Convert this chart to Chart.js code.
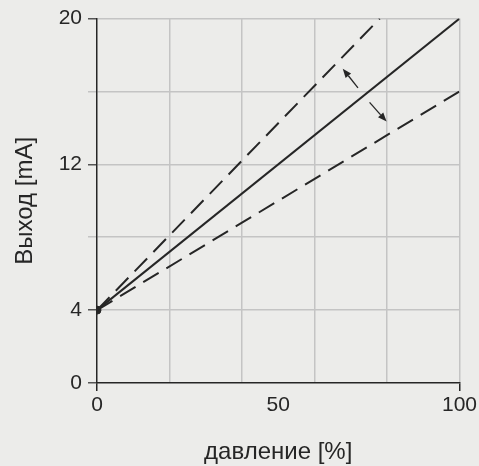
<!DOCTYPE html>
<html>
<head>
<meta charset="utf-8">
<script src="https://cdn.jsdelivr.net/npm/chart.js@4.4.1/dist/chart.umd.min.js"></script>
<style>
  html, body { margin: 0; padding: 0; background: #ececea; }
  #wrap { width: 479px; height: 466px; }
</style>
</head>
<body>
<div id="wrap"><canvas id="myChart" width="479" height="466"></canvas></div>
<script>
// characteristic lines: pressure [%] -> output [mA]
const nominalX = [0, 100];
const nominalY = [4, 20];
const upperX = [0, 78];
const upperY = [4, 20];
const lowerX = [0, 100];
const lowerY = [4, 16];

// arrows between the lines (data units)
const arrowFromX = [72, 75.2];
const arrowFromY = [16.2, 15.4];
const arrowToX = [67.8, 79.9];
const arrowToY = [17.25, 14.35];

const xLabels = [0, 50, 100];
const yLabels = [0, 4, 12, 20];

const ink = '#262626';
const gridGray = '#c4c4c4';
const fontFamily = "'Liberation Sans', Arial, sans-serif";

function pts(xs, ys) {
  return xs.map(function (x, i) { return { x: x, y: ys[i] }; });
}

// draw the two small arrows
const arrowPlugin = {
  id: 'arrows',
  afterDatasetsDraw(chart) {
    const c = chart.ctx;
    const xs = chart.scales.x, ys = chart.scales.y;
    c.save();
    c.strokeStyle = ink;
    c.fillStyle = ink;
    c.lineWidth = 1.3;
    for (let i = 0; i < arrowFromX.length; i++) {
      const x1 = xs.getPixelForValue(arrowFromX[i]), y1 = ys.getPixelForValue(arrowFromY[i]);
      const x2 = xs.getPixelForValue(arrowToX[i]), y2 = ys.getPixelForValue(arrowToY[i]);
      const a = Math.atan2(y2 - y1, x2 - x1);
      const len = 9, w = 3.5;
      const bx = x2 - len * Math.cos(a), by = y2 - len * Math.sin(a);
      c.beginPath();
      c.moveTo(x1, y1);
      c.lineTo(bx, by);
      c.stroke();
      c.beginPath();
      c.moveTo(x2, y2);
      c.lineTo(bx + w * Math.sin(a), by - w * Math.cos(a));
      c.lineTo(bx - w * Math.sin(a), by + w * Math.cos(a));
      c.closePath();
      c.fill();
    }
    c.restore();
  }
};

const ctx = document.getElementById('myChart').getContext('2d');
new Chart(ctx, {
  type: 'line',
  data: {
    datasets: [
      {
        data: pts(upperX, upperY),
        borderColor: ink,
        borderWidth: 2,
        borderDash: [18, 9],
        pointRadius: 0
      },
      {
        data: pts(lowerX, lowerY),
        borderColor: ink,
        borderWidth: 2,
        borderDash: [18, 9],
        pointRadius: 0
      },
      {
        data: pts(nominalX, nominalY),
        borderColor: ink,
        backgroundColor: ink,
        borderWidth: 2,
        pointRadius: function (c) { return c.dataIndex === 0 ? 4 : 0; },
        pointBorderWidth: 1
      }
    ]
  },
  options: {
    responsive: false,
    animation: false,
    layout: { padding: { top: 6, right: 2, left: 0, bottom: 0 } },
    plugins: {
      legend: { display: false },
      tooltip: { enabled: false }
    },
    scales: {
      x: {
        type: 'linear',
        min: 0,
        max: 100,
        afterFit: function (s) { s.height = 83; },
        border: { color: ink, width: 1.5 },
        grid: {
          color: function (c) {
            const v = c.tick.value;
            return (v > 0 && v % 20 === 0) ? gridGray : 'transparent';
          },
          tickColor: function (c) {
            const v = c.tick.value;
            return (v === 0 || v === 100) ? ink : 'transparent';
          },
          lineWidth: 1.5,
          tickLength: 8
        },
        ticks: {
          stepSize: 10,
          autoSkip: false,
          maxRotation: 0,
          padding: 2,
          color: ink,
          font: { family: fontFamily, size: 21 },
          callback: function (v) { return xLabels.includes(v) ? String(v) : ''; }
        },
        title: {
          display: true,
          text: 'давление [%]',
          color: ink,
          font: { family: fontFamily, size: 24 },
          padding: { top: 0, bottom: -1 }
        }
      },
      y: {
        min: 0,
        max: 20,
        afterFit: function (s) { s.width = 97; },
        border: { color: ink, width: 1.5 },
        grid: {
          color: function (c) { return c.tick.value === 0 ? 'transparent' : gridGray; },
          tickColor: function (c) { return yLabels.includes(c.tick.value) ? '#555' : gridGray; },
          lineWidth: 1.5,
          tickLength: 9
        },
        ticks: {
          stepSize: 4,
          autoSkip: false,
          padding: 6,
          color: ink,
          font: { family: fontFamily, size: 21 },
          callback: function (v) { return yLabels.includes(v) ? String(v) : ''; }
        },
        title: {
          display: true,
          text: 'Выход [mA]',
          color: ink,
          font: { family: fontFamily, size: 24 },
          padding: { top: 11, bottom: 0 }
        }
      }
    }
  },
  plugins: [arrowPlugin]
});
</script>
</body>
</html>
